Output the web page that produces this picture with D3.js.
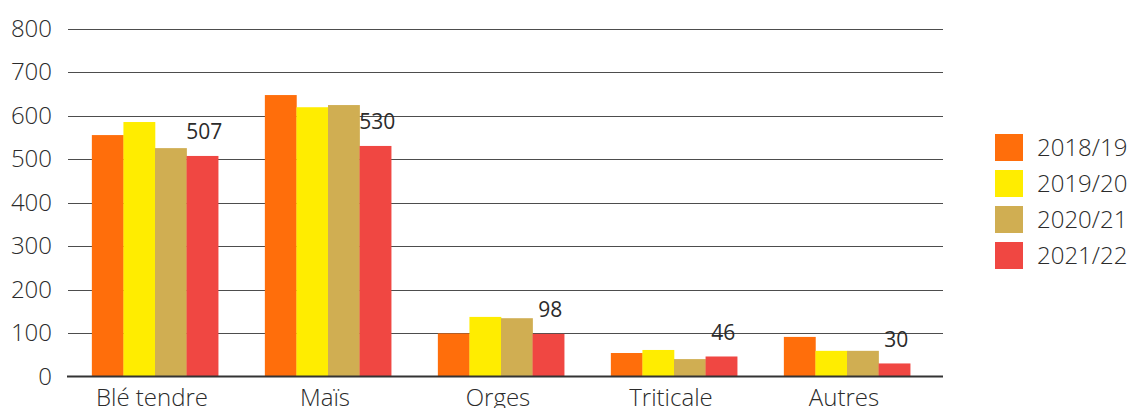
<!DOCTYPE html>
<html>
<head>
<meta charset="utf-8">
<script src="https://cdn.jsdelivr.net/npm/d3@7"></script>
<style>
  body { margin: 0; background: #fff; }
  svg text { font-family: "Open Sans", Lato, sans-serif; font-weight: 300; fill: #2b2b2b; }
</style>
</head>
<body>
<div id="chart"></div>
<script>
var categories = ["Blé tendre", "Maïs", "Orges", "Triticale", "Autres"];
var seasons = ["2018/19", "2019/20", "2020/21", "2021/22"];
var v2018 = [555, 647, 99, 54, 91];
var v2019 = [585, 619, 137, 61, 59];
var v2020 = [525, 624, 134, 40, 59];
var v2021 = [507, 530, 98, 46, 30];
var yTicks = [0, 100, 200, 300, 400, 500, 600, 700, 800];
var colors = ["#ff6e0b", "#ffed00", "#d0ae52", "#f04742"];

var series = [v2018, v2019, v2020, v2021];
var width = 1137, height = 408;

var svg = d3.select("#chart").append("svg")
  .attr("width", width)
  .attr("height", height);

var x0 = d3.scaleBand()
  .domain(categories)
  .range([68.5, 933.5])
  .paddingInner(0.27)
  .paddingOuter(0.135);

var x1 = d3.scaleBand()
  .domain(seasons)
  .range([0, x0.bandwidth()]);

var y = d3.scaleLinear()
  .domain([0, 800])
  .range([376.5, 28.5]);

// grid lines
svg.append("g")
  .selectAll("line")
  .data(yTicks.filter(function (d) { return d > 0; }))
  .enter()
  .append("line")
  .attr("x1", 68)
  .attr("x2", 943)
  .attr("y1", function (d) { return Math.round(y(d)) + 0.5; })
  .attr("y2", function (d) { return Math.round(y(d)) + 0.5; })
  .attr("stroke", "#4d4d4d")
  .attr("stroke-width", 1);

// y labels
svg.append("g")
  .selectAll("text")
  .data(yTicks)
  .enter()
  .append("text")
  .attr("x", 52)
  .attr("y", function (d) { return y(d); })
  .attr("dy", "0.35em")
  .attr("text-anchor", "end")
  .style("font-size", "24px")
  .text(function (d) { return d; });

// bars
var groups = svg.append("g")
  .selectAll("g")
  .data(categories)
  .enter()
  .append("g")
  .attr("transform", function (d) { return "translate(" + x0(d) + ",0)"; });

groups.selectAll("rect")
  .data(function (d, i) {
    return seasons.map(function (s, j) { return { season: s, value: series[j][i], idx: j }; });
  })
  .enter()
  .append("rect")
  .attr("x", function (d) { return x1(d.season); })
  .attr("width", x1.bandwidth() + 0.3)
  .attr("y", function (d) { return y(d.value); })
  .attr("height", function (d) { return y(0) - y(d.value); })
  .attr("fill", function (d) { return colors[d.idx]; });

// value labels on last season
svg.append("g")
  .selectAll("text")
  .data(categories)
  .enter()
  .append("text")
  .attr("x", function (d) { return x0(d) + x1(seasons[3]) + x1.bandwidth() / 2 + 2; })
  .attr("y", function (d, i) { return y(v2021[i]) - 24; })
  .attr("dy", "0.35em")
  .attr("text-anchor", "middle")
  .style("font-size", "21px")
  .style("font-weight", 400)
  .text(function (d, i) { return v2021[i]; });

// baseline
svg.append("line")
  .attr("x1", 67)
  .attr("x2", 943)
  .attr("y1", y(0))
  .attr("y2", y(0))
  .attr("stroke", "#333")
  .attr("stroke-width", 2);

// category labels
svg.append("g")
  .selectAll("text")
  .data(categories)
  .enter()
  .append("text")
  .attr("x", function (d) { return x0(d) + x0.bandwidth() / 2 - 3; })
  .attr("y", 406)
  .attr("text-anchor", "middle")
  .style("font-size", "24px")
  .text(function (d) { return d; });

// legend
var legend = svg.append("g")
  .selectAll("g")
  .data(seasons)
  .enter()
  .append("g")
  .attr("transform", function (d, i) { return "translate(995," + (134 + i * 36) + ")"; });

legend.append("rect")
  .attr("width", 28)
  .attr("height", 27)
  .attr("fill", function (d, i) { return colors[i]; });

legend.append("text")
  .attr("x", 42)
  .attr("y", 13.5)
  .attr("dy", "0.35em")
  .style("font-size", "24px")
  .text(function (d) { return d; });
</script>
</body>
</html>
